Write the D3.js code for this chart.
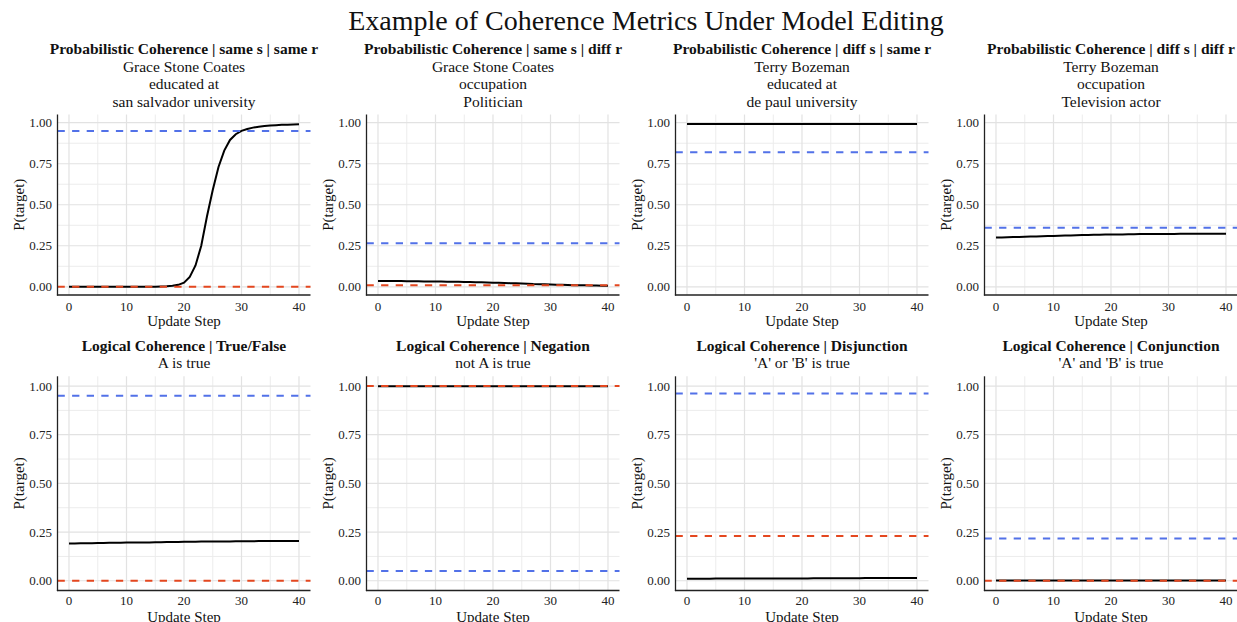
<!DOCTYPE html>
<html>
<head>
<meta charset="utf-8">
<script src="https://cdn.jsdelivr.net/npm/d3@7"></script>
<style>
  html, body { margin: 0; padding: 0; background: #fff; }
  svg { display: block; font-family: "Liberation Serif", "Times New Roman", serif; }
</style>
</head>
<body>
<svg id="chart" width="1237" height="622"></svg>
<script>
// ---------------- data ----------------
const mainTitle = "Example of Coherence Metrics Under Model Editing";
const panelTitles = [
  "Probabilistic Coherence | same s | same r",
  "Probabilistic Coherence | same s | diff r",
  "Probabilistic Coherence | diff s | same r",
  "Probabilistic Coherence | diff s | diff r",
  "Logical Coherence | True/False",
  "Logical Coherence | Negation",
  "Logical Coherence | Disjunction",
  "Logical Coherence | Conjunction"
];
const panelSubtitles = [
  ["Grace Stone Coates", "educated at", "san salvador university"],
  ["Grace Stone Coates", "occupation", "Politician"],
  ["Terry Bozeman", "educated at", "de paul university"],
  ["Terry Bozeman", "occupation", "Television actor"],
  ["A is true"],
  ["not A is true"],
  ["'A' or 'B' is true"],
  ["'A' and 'B' is true"]
];
const steps = [0,1,2,3,4,5,6,7,8,9,10,11,12,13,14,15,16,17,18,19,20,21,22,23,24,25,26,27,28,29,30,31,32,33,34,35,36,37,38,39,40];
const xTicks = [0, 10, 20, 30, 40];
const yTicks = [0, 0.25, 0.5, 0.75, 1];
const yTickLabels = ["0.00", "0.25", "0.50", "0.75", "1.00"];
const xLabel = "Update Step";
const yLabel = "P(target)";

const series1 = [0.001,0.001,0.001,0.001,0.001,0.001,0.001,0.001,0.001,0.001,0.001,0.001,0.001,0.001,0.001,0.001,0.002,0.003,0.006,0.012,0.025,0.06,0.13,0.25,0.43,0.59,0.73,0.83,0.895,0.93,0.95,0.962,0.97,0.976,0.980,0.983,0.985,0.987,0.988,0.989,0.99];
const series2 = [0.036,0.036,0.035,0.035,0.035,0.034,0.034,0.034,0.033,0.033,0.032,0.032,0.031,0.031,0.030,0.029,0.029,0.028,0.027,0.026,0.025,0.024,0.023,0.022,0.021,0.020,0.019,0.017,0.016,0.015,0.014,0.013,0.012,0.011,0.010,0.009,0.009,0.008,0.008,0.007,0.007];
const series3 = [0.992,0.992,0.992,0.992,0.992,0.992,0.992,0.992,0.992,0.992,0.992,0.992,0.992,0.992,0.992,0.992,0.992,0.992,0.992,0.992,0.992,0.992,0.992,0.992,0.992,0.992,0.992,0.992,0.992,0.992,0.992,0.992,0.992,0.992,0.992,0.992,0.992,0.992,0.992,0.992,0.992];
const series4 = [0.300,0.301,0.302,0.303,0.304,0.305,0.306,0.307,0.308,0.309,0.310,0.311,0.312,0.313,0.314,0.315,0.316,0.317,0.317,0.318,0.318,0.319,0.319,0.320,0.320,0.321,0.321,0.321,0.322,0.322,0.322,0.322,0.323,0.323,0.323,0.323,0.323,0.323,0.323,0.323,0.323];
const series5 = [0.192,0.192,0.193,0.193,0.193,0.194,0.194,0.195,0.195,0.195,0.196,0.196,0.197,0.197,0.197,0.198,0.198,0.199,0.199,0.199,0.200,0.200,0.200,0.201,0.201,0.201,0.202,0.202,0.202,0.203,0.203,0.203,0.203,0.204,0.204,0.204,0.204,0.204,0.204,0.204,0.204];
const series6 = [0.999,0.999,0.999,0.999,0.999,0.999,0.999,0.999,0.999,0.999,0.999,0.999,0.999,0.999,0.999,0.999,0.999,0.999,0.999,0.999,0.999,0.999,0.999,0.999,0.999,0.999,0.999,0.999,0.999,0.999,0.999,0.999,0.999,0.999,0.999,0.999,0.999,0.999,0.999,0.999,0.999];
const series7 = [0.010,0.010,0.010,0.010,0.010,0.011,0.011,0.011,0.011,0.011,0.011,0.011,0.011,0.012,0.012,0.012,0.012,0.012,0.012,0.012,0.012,0.012,0.013,0.013,0.013,0.013,0.013,0.013,0.013,0.013,0.013,0.014,0.014,0.014,0.014,0.014,0.014,0.014,0.014,0.014,0.014];
const series8 = [0.001,0.001,0.001,0.001,0.001,0.001,0.001,0.001,0.001,0.001,0.001,0.001,0.001,0.001,0.001,0.001,0.001,0.001,0.001,0.001,0.001,0.001,0.001,0.001,0.001,0.001,0.001,0.001,0.001,0.001,0.001,0.001,0.001,0.001,0.001,0.001,0.001,0.001,0.001,0.001,0.001];
const allSeries = [series1, series2, series3, series4, series5, series6, series7, series8];

const blueRefs = [0.95, 0.265, 0.82, 0.36, 0.95, 0.05, 0.962, 0.217];
const redRefs  = [0.0, 0.01, null, null, 0.0, 1.0, 0.23, 0.0];

// ---------------- layout ----------------
const svg = d3.select("#chart");
const colLeft = [57.5, 366.5, 675.5, 984.5];
const plotW = 253;
const rows = [
  { top: 114.5, bottom: 295, titleY: 53.5, subY: 72, subStep: 17.3, tickY: 311, labY: 325.5 },
  { top: 376.3, bottom: 590.5, titleY: 350.5, subY: 367.5, subStep: 17.3, tickY: 604.5, labY: 621.5 }
];
const BLUE = "#5271E8";
const RED = "#E4471F";

svg.append("text")
  .attr("x", 646).attr("y", 30)
  .attr("text-anchor", "middle")
  .attr("font-size", 28)
  .attr("fill", "#111")
  .text(mainTitle);

allSeries.forEach((vals, i) => {
  const r = rows[Math.floor(i / 4)];
  const left = colLeft[i % 4];
  const right = left + plotW;
  const x = d3.scaleLinear().domain([-2, 42]).range([left, right]);
  const y = d3.scaleLinear().domain([-0.05, 1.05]).range([r.bottom, r.top]);
  const g = svg.append("g");

  // minor grid
  const xMinor = [5, 15, 25, 35];
  const yMinor = [0.125, 0.375, 0.625, 0.875];
  g.selectAll(".xm").data(xMinor).enter().append("line")
    .attr("x1", d => x(d)).attr("x2", d => x(d))
    .attr("y1", r.top).attr("y2", r.bottom)
    .attr("stroke", "#ececec").attr("stroke-width", 1);
  g.selectAll(".ym").data(yMinor).enter().append("line")
    .attr("y1", d => y(d)).attr("y2", d => y(d))
    .attr("x1", left).attr("x2", right)
    .attr("stroke", "#ececec").attr("stroke-width", 1);
  // major grid
  g.selectAll(".xg").data(xTicks).enter().append("line")
    .attr("x1", d => x(d)).attr("x2", d => x(d))
    .attr("y1", r.top).attr("y2", r.bottom)
    .attr("stroke", "#e2e2e2").attr("stroke-width", 1.2);
  g.selectAll(".yg").data(yTicks).enter().append("line")
    .attr("y1", d => y(d)).attr("y2", d => y(d))
    .attr("x1", left).attr("x2", right)
    .attr("stroke", "#e2e2e2").attr("stroke-width", 1.2);

  // data line
  const line = d3.line().x((d, j) => x(steps[j])).y(d => y(d)).curve(d3.curveLinear);
  g.append("path").datum(vals)
    .attr("d", line)
    .attr("fill", "none")
    .attr("stroke", "#000")
    .attr("stroke-width", 2);

  // reference lines
  if (redRefs[i] !== null) {
    g.append("line")
      .attr("x1", left).attr("x2", right)
      .attr("y1", y(redRefs[i])).attr("y2", y(redRefs[i]))
      .attr("stroke", RED).attr("stroke-width", 2)
      .attr("stroke-dasharray", "7.3,7.3");
  }
  g.append("line")
    .attr("x1", left).attr("x2", right)
    .attr("y1", y(blueRefs[i])).attr("y2", y(blueRefs[i]))
    .attr("stroke", BLUE).attr("stroke-width", 2)
    .attr("stroke-dasharray", "7.3,7.3");

  // axis lines
  g.append("line").attr("x1", left).attr("x2", left).attr("y1", r.top).attr("y2", r.bottom + 0.6)
    .attr("stroke", "#222").attr("stroke-width", 1.3);
  g.append("line").attr("x1", left - 0.6).attr("x2", right).attr("y1", r.bottom).attr("y2", r.bottom)
    .attr("stroke", "#222").attr("stroke-width", 1.3);

  // tick labels
  g.selectAll(".xt").data(xTicks).enter().append("text")
    .attr("x", d => x(d)).attr("y", r.tickY)
    .attr("text-anchor", "middle").attr("font-size", 13).attr("fill", "#222")
    .text(d => d);
  g.selectAll(".yt").data(yTicks).enter().append("text")
    .attr("x", left - 5.5).attr("y", d => y(d) + 4.5)
    .attr("text-anchor", "end").attr("font-size", 13).attr("fill", "#222")
    .text((d, k) => yTickLabels[k]);

  // axis titles
  g.append("text").attr("x", (left + right) / 2).attr("y", r.labY)
    .attr("text-anchor", "middle").attr("font-size", 15).attr("fill", "#111")
    .text(xLabel);
  const cy = (r.top + r.bottom) / 2;
  g.append("text")
    .attr("transform", `translate(${left - 33.5},${cy}) rotate(-90)`)
    .attr("text-anchor", "middle").attr("font-size", 15).attr("fill", "#111")
    .text(yLabel);

  // titles
  const cx = (left + right) / 2;
  g.append("text").attr("x", cx).attr("y", r.titleY)
    .attr("text-anchor", "middle").attr("font-size", 15.5).attr("font-weight", "bold").attr("fill", "#111")
    .text(panelTitles[i]);
  panelSubtitles[i].forEach((s, k) => {
    g.append("text").attr("x", cx).attr("y", r.subY + k * r.subStep)
      .attr("text-anchor", "middle").attr("font-size", 15.5).attr("fill", "#111")
      .text(s);
  });
});
</script>
</body>
</html>
